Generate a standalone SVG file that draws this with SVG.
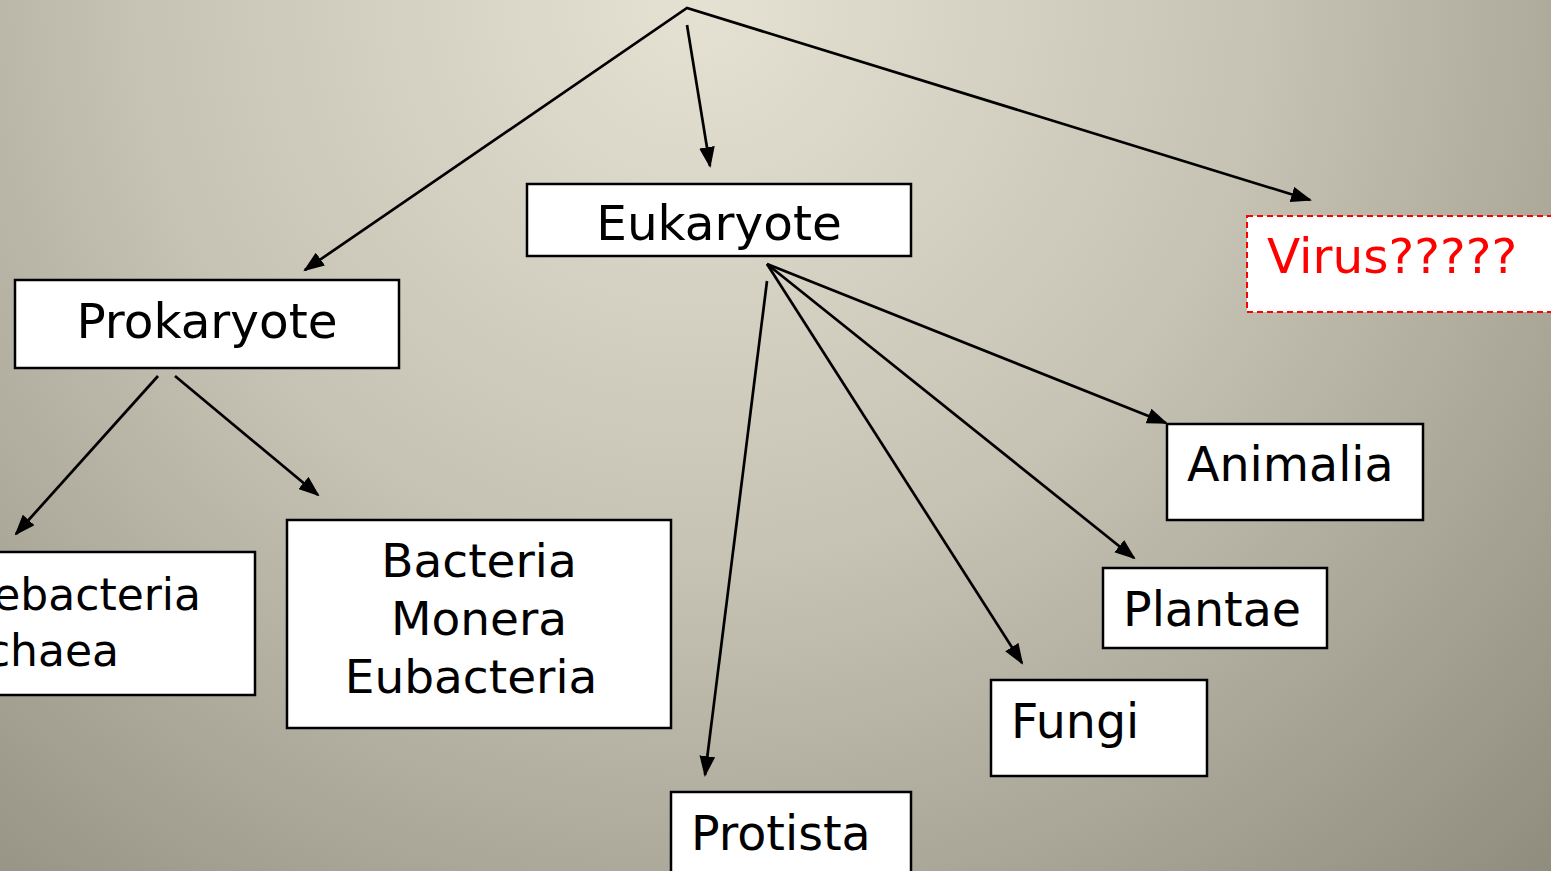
<svg xmlns="http://www.w3.org/2000/svg" width="1551" height="871" viewBox="0 0 1551 871">
<defs>
<radialGradient id="bg" cx="700" cy="0" r="1250" gradientUnits="userSpaceOnUse">
<stop offset="0" stop-color="#e5e2d3"/>
<stop offset="0.45" stop-color="#c6c3b4"/>
<stop offset="1" stop-color="#8d8a7b"/>
</radialGradient>
<marker id="ah" markerUnits="userSpaceOnUse" markerWidth="21" markerHeight="16" refX="18" refY="7.5" orient="auto" viewBox="0 0 20 15">
<path d="M0,0 L20,7.5 L0,15 z" fill="#000"/>
</marker>
<style>
.box{fill:#fff;stroke:#000;stroke-width:2.5}
.t{font-family:"DejaVu Sans","Verdana",sans-serif;font-size:48.5px;fill:#000}
.c{stroke:#000;stroke-width:2.7;fill:none}
</style>
</defs>
<rect width="1551" height="871" fill="url(#bg)"/>
<g id="connectors">
<polyline class="c" points="305,270 687,8 1310,200" marker-end="url(#ah)"/>
<path class="c" d="M312,265 L305,270" marker-end="url(#ah)"/>
<line class="c" x1="687" y1="25" x2="710" y2="166" marker-end="url(#ah)"/>
<line class="c" x1="158" y1="376" x2="16" y2="534" marker-end="url(#ah)"/>
<line class="c" x1="175" y1="376" x2="318" y2="495" marker-end="url(#ah)"/>
<line class="c" x1="767" y1="264" x2="1166" y2="423" marker-end="url(#ah)"/>
<line class="c" x1="767" y1="264" x2="1134" y2="558" marker-end="url(#ah)"/>
<line class="c" x1="767" y1="264" x2="1022" y2="663" marker-end="url(#ah)"/>
<line class="c" x1="767" y1="281" x2="705" y2="775" marker-end="url(#ah)"/>
</g>
<g id="prokaryote">
<rect class="box" x="15" y="280" width="384" height="88"/>
<text class="t" x="207" y="338" text-anchor="middle">Prokaryote</text>
</g>
<g id="eukaryote">
<rect class="box" x="527" y="184" width="384" height="72"/>
<text class="t" x="719" y="240" text-anchor="middle">Eukaryote</text>
</g>
<g id="virus">
<rect x="1247" y="216" width="310" height="96" fill="#fff" stroke="#f00" stroke-width="2" stroke-dasharray="6,4"/>
<text class="t" x="1392" y="273" text-anchor="middle" style="fill:#f00">Virus?????</text>
</g>
<g id="archaea">
<rect class="box" x="-10" y="552" width="265" height="143"/>
<text class="t" x="201" y="610" text-anchor="end" style="font-size:44px">Archaebacteria</text>
<text class="t" x="119" y="666" text-anchor="end" style="font-size:44px">Archaea</text>
</g>
<g id="bacteria">
<rect class="box" x="287" y="520" width="384" height="208"/>
<text class="t" x="479" y="577" text-anchor="middle" style="font-size:47px">Bacteria</text>
<text class="t" x="479" y="635" text-anchor="middle" style="font-size:47px">Monera</text>
<text class="t" x="471" y="693" text-anchor="middle" style="font-size:47px">Eubacteria</text>
</g>
<g id="animalia">
<rect class="box" x="1167" y="424" width="256" height="96"/>
<text class="t" x="1187" y="481" style="font-size:47.5px">Animalia</text>
</g>
<g id="plantae">
<rect class="box" x="1103" y="568" width="224" height="80"/>
<text class="t" x="1123" y="626" style="font-size:47.5px">Plantae</text>
</g>
<g id="fungi">
<rect class="box" x="991" y="680" width="216" height="96"/>
<text class="t" x="1011" y="738" style="font-size:47.5px">Fungi</text>
</g>
<g id="protista">
<rect class="box" x="671" y="792" width="240" height="100"/>
<text class="t" x="691" y="850" style="font-size:47.5px">Protista</text>
</g>
</svg>
